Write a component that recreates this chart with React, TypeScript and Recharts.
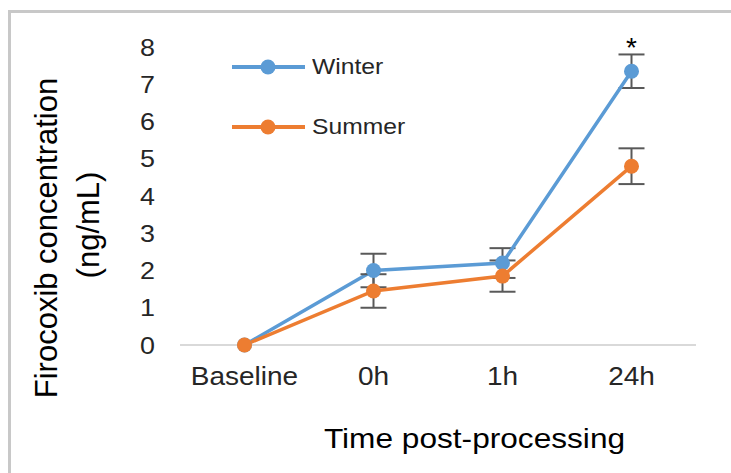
import React from 'react';
import { LineChart, Line, XAxis, YAxis, ErrorBar, Legend, LabelList } from 'recharts';

const categories = ['Baseline', '0h', '1h', '24h'];
const seriesNames = ['Winter', 'Summer'];
const winter = [0, 2.0, 2.2, 7.35];
const summer = [0, 1.45, 1.85, 4.8];
const winterErr = [0, 0.45, 0.4, 0.45];
const summerErr = [0, 0.45, 0.42, 0.48];
const significance = ['', '', '', '*'];
const yTicks = [0, 1, 2, 3, 4, 5, 6, 7, 8];

const data = categories.map((c, i) => ({
  cat: c,
  winter: winter[i],
  summer: summer[i],
  winterErr: winterErr[i],
  summerErr: summerErr[i],
  sig: significance[i],
}));

const FONT = '"Liberation Sans", Arial, sans-serif';
const BLUE = '#5B9BD5';
const ORANGE = '#ED7D31';

const XTick = (props: any) => {
  const { x, y, payload } = props;
  return (
    <g transform={`translate(${x},${y}) scale(1.12,1)`}>
      <text x={0} y={0} textAnchor="middle" fontFamily={FONT} fontSize={25} fill="#262626">
        {payload.value}
      </text>
    </g>
  );
};

const YTick = (props: any) => {
  const { x, y, payload } = props;
  return (
    <g transform={`translate(${x},${y}) scale(1.12,1)`}>
      <text x={0} y={0} dy="0.355em" textAnchor="end" fontFamily={FONT} fontSize={24} fill="#262626">
        {payload.value}
      </text>
    </g>
  );
};

const SigLabel = (props: any) => {
  const { x, y, value } = props;
  if (!value) return null;
  return (
    <text x={x} y={y - 14} textAnchor="middle" fontFamily={FONT} fontSize={28} fill="#000">
      {value}
    </text>
  );
};

const LegendContent = (props: any) => {
  const items = [...(props.payload || [])].sort(
    (a: any, b: any) => seriesNames.indexOf(a.value) - seriesNames.indexOf(b.value)
  );
  return (
    <div style={{ display: 'flex', flexDirection: 'column' }}>
      {items.map((p: any, i: number) => (
        <div key={i} style={{ display: 'flex', alignItems: 'center', height: 20, marginBottom: 40 }}>
          <svg width={80} height={20} style={{ display: 'block' }}>
            <line x1={0} y1={10} x2={73} y2={10} stroke={p.color} strokeWidth={4} />
            <circle cx={36} cy={10} r={7.5} fill={p.color} />
          </svg>
          <span
            style={{
              fontFamily: FONT,
              fontSize: 22,
              color: '#262626',
              display: 'inline-block',
              transform: 'scale(1.12,1)',
              transformOrigin: 'left center',
              lineHeight: '20px',
              whiteSpace: 'nowrap',
            }}
          >
            {p.value}
          </span>
        </div>
      ))}
    </div>
  );
};

export default function App() {
  return (
    <div style={{ position: 'absolute', left: 0, top: 0, width: 731, height: 473, background: '#fff', overflow: 'hidden' }}>
      <div
        style={{
          position: 'absolute',
          left: 8,
          top: 10,
          width: 760,
          height: 500,
          borderLeft: '3px solid #c8c8c8',
          borderTop: '3px solid #c8c8c8',
        }}
      />
      <div style={{ position: 'absolute', left: 0, top: 0 }}>
        <LineChart width={731} height={473} data={data} margin={{ top: 47, right: 35, bottom: 88, left: 120 }}>
          <XAxis
            dataKey="cat"
            scale="band"
            axisLine={{ stroke: '#d9d9d9', strokeWidth: 2 }}
            tickLine={false}
            tickSize={0}
            tickMargin={40}
            height={40}
            tick={<XTick />}
            interval={0}
          />
          <YAxis
            domain={[0, 8]}
            ticks={yTicks}
            axisLine={false}
            tickLine={false}
            tickSize={0}
            tickMargin={25}
            width={60}
            tick={<YTick />}
            interval={0}
          />
          <Legend
            verticalAlign="middle"
            align="center"
            layout="vertical"
            content={<LegendContent />}
            wrapperStyle={{ position: 'absolute', left: 232, top: 57, width: 200, height: 100 }}
          />
          <Line
            type="linear"
            dataKey="winter"
            name="Winter"
            stroke={BLUE}
            strokeWidth={3.5}
            dot={{ r: 7.5, fill: BLUE, stroke: BLUE, strokeWidth: 0 }}
            activeDot={false}
            isAnimationActive={false}
          >
            <ErrorBar dataKey="winterErr" direction="y" width={13} strokeWidth={2} stroke="#595959" />
            <LabelList dataKey="sig" content={<SigLabel />} />
          </Line>
          <Line
            type="linear"
            dataKey="summer"
            name="Summer"
            stroke={ORANGE}
            strokeWidth={3.5}
            dot={{ r: 7.5, fill: ORANGE, stroke: ORANGE, strokeWidth: 0 }}
            activeDot={false}
            isAnimationActive={false}
          >
            <ErrorBar dataKey="summerErr" direction="y" width={13} strokeWidth={2} stroke="#595959" />
          </Line>
        </LineChart>
      </div>
      <svg width={731} height={473} style={{ position: 'absolute', left: 0, top: 0, pointerEvents: 'none' }}>
        <text
          transform="translate(57,238) rotate(-90)"
          textAnchor="middle"
          fontFamily={FONT}
          fontSize={31}
          fill="#000"
        >
          Firocoxib concentration
        </text>
        <text
          transform="translate(99,225) rotate(-90)"
          textAnchor="middle"
          fontFamily={FONT}
          fontSize={31}
          fill="#000"
        >
          (ng/mL)
        </text>
        <g transform="translate(474.5,448) scale(1.13,1)">
          <text x={0} y={0} textAnchor="middle" fontFamily={FONT} fontSize={28} fill="#000">
            Time post-processing
          </text>
        </g>
      </svg>
    </div>
  );
}
